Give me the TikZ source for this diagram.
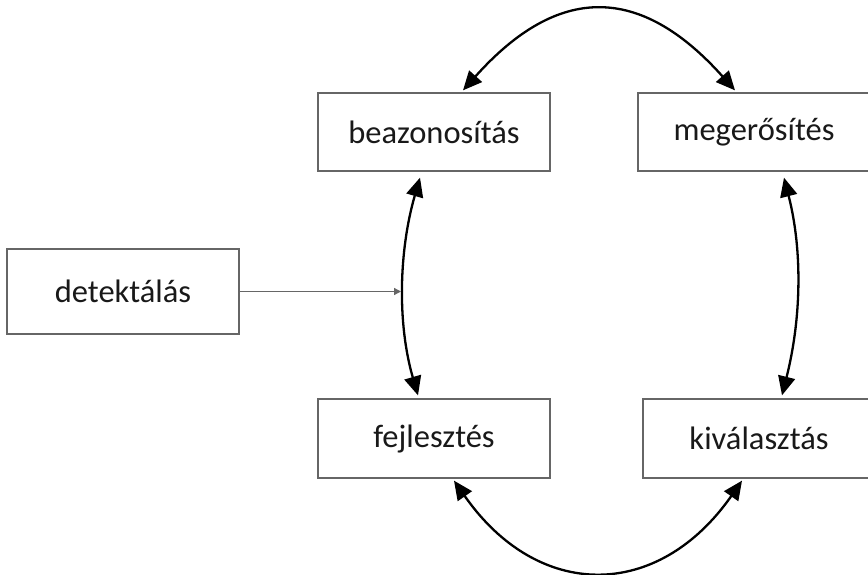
\documentclass[tikz,border=0pt]{standalone}
\usepackage{fontspec}
\setmainfont{Carlito}
\usetikzlibrary{arrows.meta,calc}
\begin{document}
\begin{tikzpicture}[x=1pt,y=-1pt,
  box/.style={draw=black!60,line width=1.3pt,fill=white,minimum width=232pt,inner sep=0pt,font=\fontsize{32.5}{38}\selectfont,text=black!90},
  cyc/.style={line width=2.3pt,{Triangle[length=19pt,width=17pt]}-{Triangle[length=19pt,width=17pt]}},
  feed/.style={draw=black!60,line width=1.3pt,-{Triangle[length=7pt,width=7pt]}}]
\useasboundingbox (0,0) rectangle (868,574);
\clip (0,0) rectangle (868,574);
\node[box,minimum height=78pt] (bea) at (434,132) {beazonosítás};
\node[box,minimum height=78pt] (meg) at (754,132) {megerősítés};
\node[box,minimum height=85pt] (det) at (123,291.5) {detektálás};
\node[box,minimum height=79pt] (fej) at (434,438.5) {fejlesztés};
\node[box,minimum height=79pt] (kiv) at (759,438.5) {kiválasztás};
\coordinate (detend) at (401,291.5);
\draw[cyc] ($(bea.north)+(29,-2)$) .. controls (558,-16) and (640,-16) .. ($(meg.north)+(-19,-2)$);
\draw[cyc] ($(bea.south)+(-14,6)$) .. controls (399,250) and (397,323) .. ($(fej.north)+(-16,-3)$);
\draw[cyc] ($(meg.south)+(30,6)$) .. controls (803,252) and (801,320) .. ($(kiv.north)+(23,-3)$);
\draw[cyc] ($(fej.south)+(20,2)$) .. controls (538,601) and (658,601) .. ($(kiv.south)+(-17,2)$);
\draw[feed] (det.east) -- (detend);
\end{tikzpicture}
\end{document}
